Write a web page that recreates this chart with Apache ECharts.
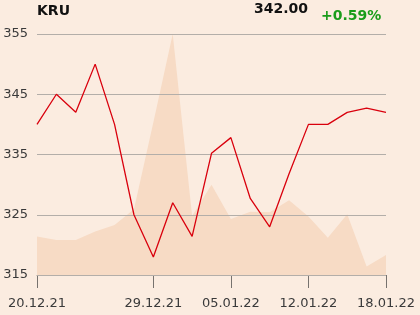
<!DOCTYPE html>
<html><head><meta charset="utf-8">
<script src="https://cdn.jsdelivr.net/npm/echarts@6/dist/echarts.min.js"></script>
<style>html,body{margin:0;padding:0;background:#fbece0;}#c{width:420px;height:315px;}</style>
</head><body><div id="c"></div>
<script>
var dates = ["20.12.21","21.12.21","22.12.21","23.12.21","24.12.21","27.12.21","29.12.21","30.12.21","31.12.21","04.01.22","05.01.22","06.01.22","10.01.22","11.01.22","12.01.22","13.01.22","14.01.22","17.01.22","18.01.22"];
var price = [340, 345, 342, 350, 340, 325, 318, 327, 321.4, 335.2, 337.8, 327.7, 323, 331.8, 340, 340, 342, 342.7, 342];
var volume = [321.4, 320.8, 320.8, 322.2, 323.3, 325.9, 340.3, 355, 324.8, 330, 324.3, 325.5, 325.4, 327.4, 324.7, 321.2, 325.1, 316.4, 318.3];
var yTicks = [315, 325, 335, 345, 355];
var shownLabels = [0, 6, 10, 14, 18];
var titleText = "KRU", lastText = "342.00", changeText = "+0.59%";

var chart = echarts.init(document.getElementById('c'), null, {renderer: 'canvas'});
var font = 'DejaVu Sans';
chart.setOption({
  backgroundColor: '#fbece0',
  animation: false,
  textStyle: {fontFamily: font},
  graphic: [
    {type: 'text', left: 37, top: 4, style: {text: titleText, font: 'bold 14px "DejaVu Sans"', fill: '#111'}},
    {type: 'text', left: 254, top: 2, style: {text: lastText, font: 'bold 14px "DejaVu Sans"', fill: '#111'}},
    {type: 'text', left: 321, top: 9, style: {text: changeText, font: 'bold 14px "DejaVu Sans"', fill: '#1a9c1a'}}
  ],
  grid: {left: 37, right: 34, top: 34, bottom: 40},
  xAxis: {
    type: 'category', data: dates, boundaryGap: false,
    axisLine: {show: true, lineStyle: {color: '#9a9590', width: 1}},
    axisTick: {show: true, length: 13, lineStyle: {color: '#77726e'}, interval: function(i){return shownLabels.indexOf(i) >= 0;}},
    axisLabel: {color: '#3a3a3a', fontSize: 13, fontFamily: font, margin: 22,
      interval: function(i){return shownLabels.indexOf(i) >= 0;}},
    splitLine: {show: false}
  },
  yAxis: {
    type: 'value', min: 315, max: 355, interval: 10, z: 3,
    axisLine: {show: false}, axisTick: {show: false},
    axisLabel: {color: '#3a3a3a', fontSize: 13, fontFamily: font, margin: 9},
    splitLine: {lineStyle: {color: '#b3aea9', width: 1}}
  },
  series: [
    {type: 'line', data: volume, symbol: 'none', z: 1,
      lineStyle: {width: 0}, areaStyle: {color: '#f7dbc5', opacity: 1, origin: 'start'}},
    {type: 'line', data: price, symbol: 'none', z: 5,
      lineStyle: {color: '#d9000d', width: 1.3}}
  ]
});
</script></body></html>
